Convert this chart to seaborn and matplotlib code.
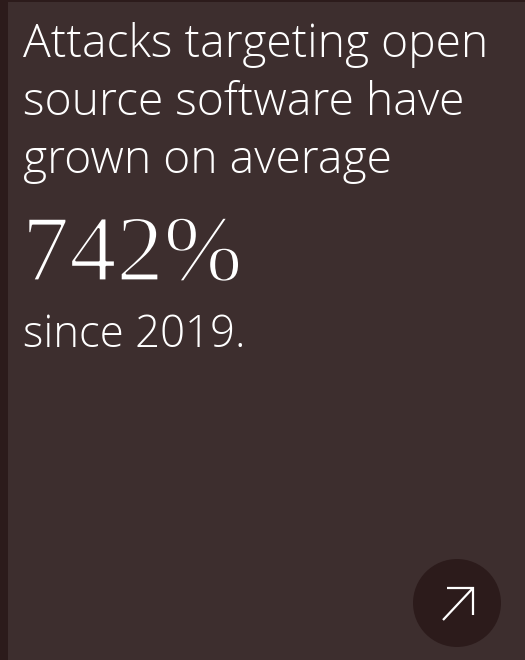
"""Cartão de destaque: crescimento de ataques a software open source."""
import matplotlib.patheffects as pe
import matplotlib.pyplot as plt
import seaborn as sns
from matplotlib.patches import Circle, Rectangle

# dados do cartão
titulo_linhas = ["Attacks targeting open", "source software have", "grown on average"]
crescimento_pct = 742
ano_base = 2019

FUNDO = "#3d2e2e"
ESCURO = "#2c1b1b"
TEXTO = "#ffffff"

sns.set_theme(style="white")
plt.rcParams["font.family"] = ["Open Sans", "DejaVu Sans"]

fig = plt.figure(figsize=(5.25, 6.6), dpi=100)
fig.patch.set_facecolor(FUNDO)
ax = fig.add_axes([0, 0, 1, 1])
ax.set_xlim(0, 525)
ax.set_ylim(660, 0)
ax.set_axis_off()
ax.set_facecolor(FUNDO)

# faixa escura à esquerda e borda fina no topo
ax.add_patch(Rectangle((0, 0), 8, 660, color=ESCURO, lw=0))
ax.add_patch(Rectangle((0, 0), 525, 1.5, color=ESCURO, lw=0))

# título em três linhas
for i, linha in enumerate(titulo_linhas):
    ax.text(23, 45 + i * 58, linha, color=TEXTO, fontsize=33.3,
            fontweight="light", va="center", ha="left")

# número em destaque (contorno na cor do fundo para afinar o traço)
ax.text(22, 258, f"{crescimento_pct}%", color=TEXTO, fontsize=68,
        family=["Liberation Serif", "DejaVu Serif"],
        va="center", ha="left",
        path_effects=[pe.Stroke(linewidth=1.6, foreground=FUNDO)])

ax.text(23, 336, f"since {ano_base}.", color=TEXTO, fontsize=31.5,
        fontweight="light", va="center", ha="left")

# botão circular com seta
ax.add_patch(Circle((457, 603), 44, color=ESCURO, lw=0))
ax.plot([443, 473], [620, 588], color=TEXTO, lw=1.6, solid_capstyle="butt")
ax.plot([447, 473, 473], [588, 588, 615], color=TEXTO, lw=1.6,
        solid_joinstyle="miter", solid_capstyle="butt")

fig.savefig("out.png", dpi=100, facecolor=FUNDO)
